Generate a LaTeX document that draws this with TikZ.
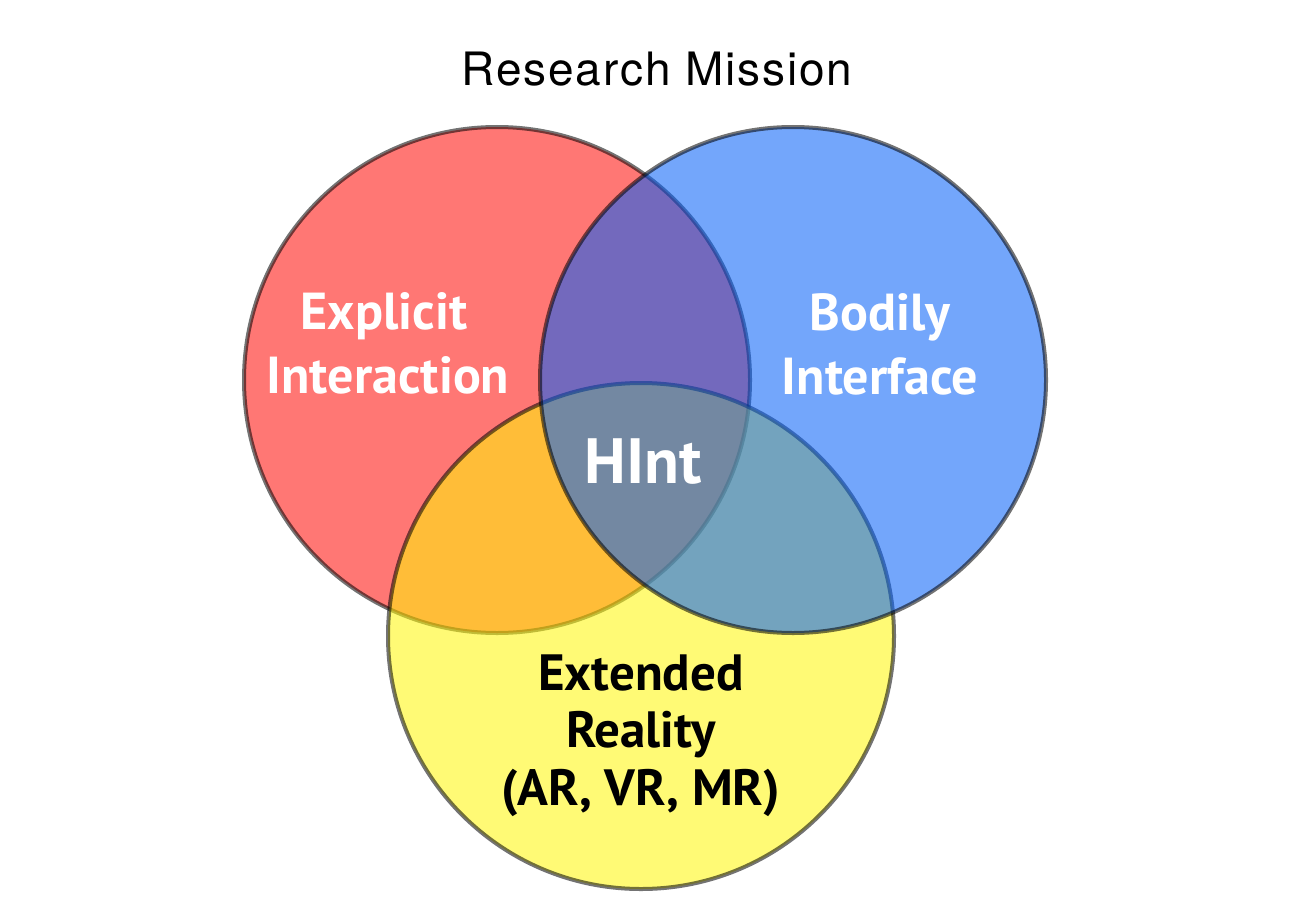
\documentclass[tikz,border=0pt]{standalone}
\usepackage{fontspec}
\setmainfont{TeX Gyre Heros}
\newfontfamily\titlefont{TeX Gyre Heros}[LetterSpace=4]
\newfontfamily\labelfont{PT Sans}[BoldFont={* Bold}]
\begin{document}
\begin{tikzpicture}[x=1pt,y=-1pt,
  setcircle/.style={line width=4pt,draw=black,draw opacity=0.55,fill opacity=0.555},
  lbl/.style={anchor=base,inner sep=0pt,text=white,font=\labelfont\bfseries\fontsize{52}{62}\selectfont},
  lbldark/.style={lbl,text=black,font=\labelfont\bfseries\fontsize{51}{58}\selectfont}]
  \definecolor{setred}{RGB}{255,10,6}
  \definecolor{setblue}{RGB}{4,95,248}
  \definecolor{setyellow}{RGB}{255,246,8}
  \useasboundingbox (0,0) rectangle (1316,923);

  % the three sets: red first, then yellow, blue on top
  \path[setcircle,fill=setred] (497,380) circle[radius=253] node (explicit) {};
  \path[setcircle,fill=setyellow] (641,636) circle[radius=253] node (xr) {};
  \path[setcircle,fill=setblue] (793,380) circle[radius=253] node (bodily) {};

  % title
  \node[anchor=base,inner sep=0pt,font=\titlefont\fontsize{46}{52}\selectfont] (title) at (657,86) {Research Mission};

  % set labels
  \node[lbl] (ex1) at (384,329) {Explicit};
  \node[lbl] (ex2) at (388,393) {Interaction};
  \node[lbl] (bo1) at (880,330) {Bodily};
  \node[lbl] (bo2) at (880,394) {Interface};
  \node[lbl,font=\labelfont\bfseries\fontsize{64}{72}\selectfont] (hint) at (643,483) {HInt};
  \node[lbldark] (xr1) at (641,690) {Extended};
  \node[lbldark] (xr2) at (641,747) {Reality};
  \node[lbldark] (xr3) at (641,805) {(AR, VR, MR)};
\end{tikzpicture}
\end{document}
